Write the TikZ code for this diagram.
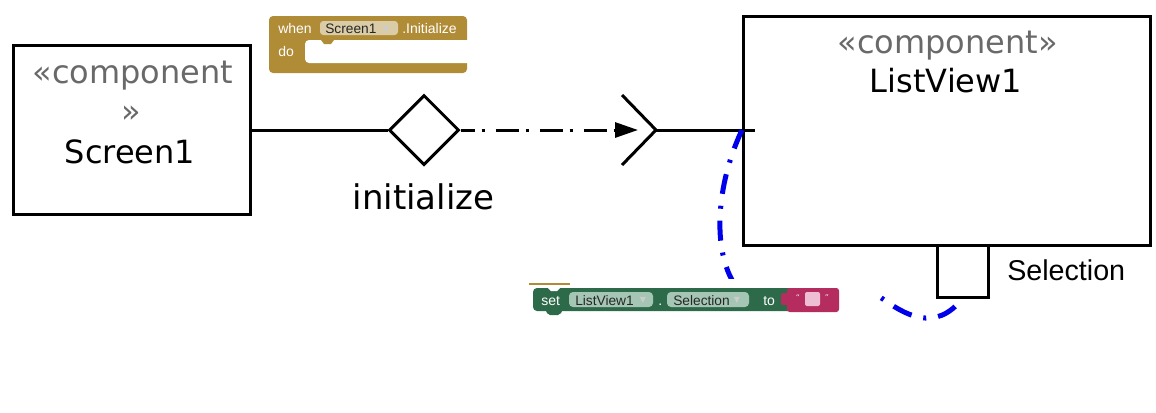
\documentclass[tikz,border=0pt]{standalone}
\usepackage{fontspec}
\setmainfont{DejaVu Sans}
\newfontfamily\arialf{Liberation Sans}
\usetikzlibrary{shapes.geometric,arrows.meta}
\definecolor{stereo}{RGB}{105,105,105}
\definecolor{evgold}{RGB}{177,140,55}
\definecolor{evdrop}{RGB}{218,204,166}
\definecolor{setgreen}{RGB}{45,106,74}
\definecolor{setdrop}{RGB}{165,198,180}
\definecolor{txtpink}{RGB}{180,45,94}
\definecolor{txtinner}{RGB}{238,190,210}
\definecolor{dashblue}{RGB}{0,0,235}
\begin{document}
\begin{tikzpicture}[x=0.75pt,y=-0.75pt,
  umlbox/.style={draw=black,line width=2.25pt,inner sep=0pt},
  conn/.style={draw=black,line width=2.25pt},
  lbl/.style={inner sep=0pt,anchor=base},
  stereotxt/.style={lbl,text=stereo,font=\fontsize{24}{28}\selectfont},
  nametxt/.style={lbl,text=black,font=\fontsize{24}{28}\selectfont},
  blkw/.style={inner sep=0pt,anchor=base west,text=white,font=\arialf\fontsize{10.5}{12}\selectfont},
  blkd/.style={inner sep=0pt,anchor=base west,text=black!85,font=\arialf\fontsize{10.3}{12}\selectfont},
  ddarrow/.style={inner sep=0pt,anchor=base,text=white!80!black,font=\fontsize{6}{7}\selectfont},
  bluecurve/.style={draw=dashblue,line width=3.75pt,dash pattern=on 15pt off 9pt on 2.25pt off 9pt},
]
\useasboundingbox (0,0) rectangle (1156,412);

% Screen1 component
\node[umlbox,minimum width=177.75pt,minimum height=126.75pt] (s1) at (131.5,129.5) {};
\node[stereotxt] (s1st1) at (133,83) {«component};
\node[stereotxt] (s1st2) at (131,122) {»};
\node[nametxt] (s1nm) at (130,163) {Screen1};

% ListView1 component
\node[umlbox,minimum width=305.25pt,minimum height=171.75pt] (lv) at (946.5,130.5) {};
\node[stereotxt] (lvst) at (947.5,53) {«component»};
\node[nametxt] (lvnm) at (946,92) {ListView1};
\node[umlbox,fill=white,minimum width=38.25pt,minimum height=39pt] (port) at (962.5,271) {};
\node[lbl,anchor=base west,font=\arialf\fontsize{21.5}{24}\selectfont] (sel) at (1007,280) {Selection};

% diamond and label
\node[diamond,umlbox,minimum width=52.5pt,minimum height=52.5pt] (dia) at (424,130) {};
\node[lbl,font=\fontsize{25.5}{30}\selectfont] (init) at (423.5,209) {initialize};

\coordinate (tip) at (638,130);
\coordinate (sock) at (656,130);
\coordinate (sockt) at (622,95);
\coordinate (sockb) at (622,165);
\coordinate (lvin) at (742,130);
\coordinate (lvend) at (755,130);
\coordinate (c1) at (735,285);
\coordinate (c2) at (880,297);

\draw[conn] (s1.east |- dia.west) -- (dia.west);
\draw[conn,dash pattern=on 17.25pt off 5.25pt on 2.25pt off 8.25pt,dash phase=6.75pt,
  -{Triangle[length=17.25pt,width=11.25pt]}] (dia.east) -- (tip);
\draw[conn] (sockt) -- (sock) -- (sockb);
\draw[conn] (sock) -- (lvend);

% blue dash-dot connector
\draw[bluecurve] (lvin) .. controls (716,185) and (712,250) .. (c1)
  .. controls (760,322) and (845,272) .. (c2)
  .. controls (905,315) and (935,333) .. (port.south);

% event block (when Screen1.Initialize do)
\fill[evgold,rounded corners=3pt] (269,16) rectangle (467,73);
\fill[white,rounded corners=3pt] (305,40) rectangle (480,63);
\fill[evgold] (321,40) -- (324,44) -- (331,44) -- (334,40) -- cycle;
\fill[evdrop,rounded corners=2.5pt] (320,21) rectangle (398,35);
\node[blkw] (evwhen) at (278,33) {when};
\node[blkd] (evscr) at (325,33) {Screen1};
\node[ddarrow] (evdd) at (386,31) {▼};
\node[blkw] (evinit) at (402,33) {.Initialize};
\node[blkw] (evdo) at (278,56) {do};

% setter block (set ListView1.Selection to "")
\fill[white] (526,279) rectangle (878,321);
\draw[evgold,line width=1.2pt] (529,284) -- (570,284);
\fill[setgreen,rounded corners=3pt] (533,288) rectangle (792,311);
\fill[white] (548,288) -- (551,291) -- (557,291) -- (560,288) -- cycle;
\fill[setgreen,rounded corners=1.5pt] (545,309) -- (548,315) -- (560,315) -- (563,309) -- cycle;
\fill[txtpink,rounded corners=2pt] (787,288) rectangle (839,312);
\fill[txtpink,rounded corners=1.5pt] (781,293) rectangle (790,305);
\fill[setdrop,rounded corners=3pt] (569,292) rectangle (653,307);
\fill[setdrop,rounded corners=3pt] (667,292) rectangle (749,307);
\node[blkw] (sset) at (541,305) {set};
\node[blkd] (slv) at (575,305) {ListView1};
\node[ddarrow] (sdd1) at (643,302) {▼};
\node[blkw] (sdot) at (658,305) {.};
\node[blkd] (ssel) at (673,305) {Selection};
\node[ddarrow] (sdd2) at (737,302) {▼};
\node[blkw] (sto) at (763,305) {to};
\fill[txtinner,rounded corners=1.5pt] (805,292) rectangle (820,306);
\node[ddarrow,text=white!85!txtpink] (q1) at (798,300) {“};
\node[ddarrow,text=white!85!txtpink] (q2) at (827,300) {”};
\end{tikzpicture}
\end{document}
